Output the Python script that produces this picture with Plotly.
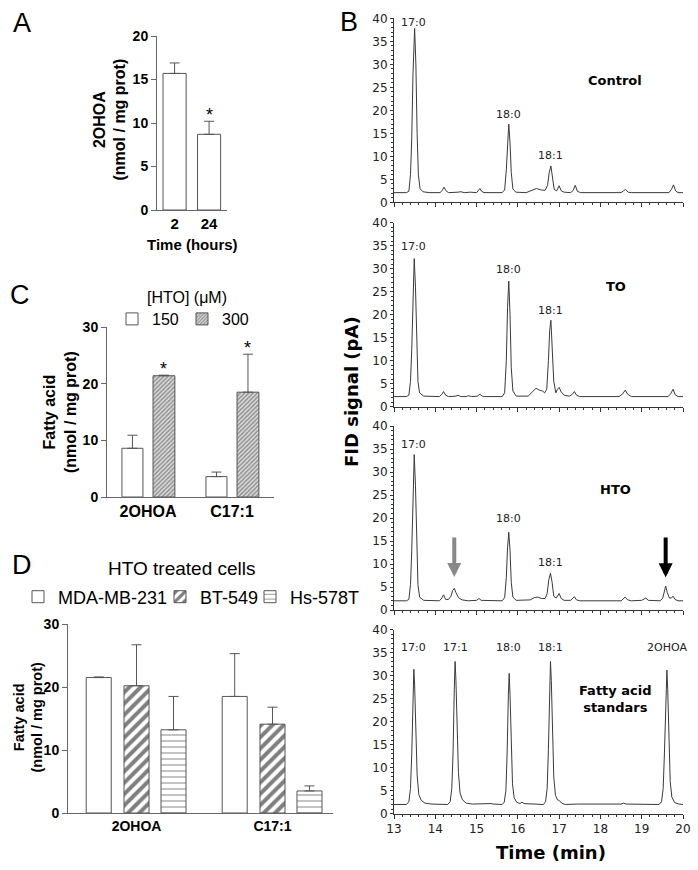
import plotly.graph_objects as go

W, H = 698, 870
def px(x):
    return x / W
def py(y):
    return 1 - y / H

ARIAL = "Liberation Sans, Arial, sans-serif"
VERD = "DejaVu Sans, Verdana, sans-serif"

# ---------------- Panel A data ----------------
a_times = ["2", "24"]
a_mean = [15.7, 8.7]
a_top = [16.9, 10.2]
a_sig = ["", "*"]

# ---------------- Panel C data ----------------
c_cats = ["2OHOA", "C17:1"]
c_150_mean = [8.6, 3.6]
c_150_top = [10.9, 4.4]
c_300_mean = [21.4, 18.5]
c_300_top = [21.5, 25.2]
c_300_sig = ["*", "*"]

# ---------------- Panel D data ----------------
d_cats = ["2OHOA", "C17:1"]
d_mda_mean = [21.5, 18.5]
d_mda_top = [21.6, 25.3]
d_bt_mean = [20.2, 14.1]
d_bt_top = [26.7, 16.8]
d_hs_mean = [13.2, 3.5]
d_hs_top = [18.5, 4.3]

# ---------------- Panel B chromatograms ----------------
ctrl_t = [13.00, 13.30, 13.36, 13.40, 13.43, 13.46, 13.50, 13.53, 13.56, 13.59, 13.63, 13.70, 13.85,
          14.12, 14.17, 14.21, 14.26, 14.32, 14.55, 14.62, 14.70, 14.85, 15.00, 15.04, 15.08, 15.12, 15.18,
          15.62, 15.68, 15.72, 15.75, 15.78, 15.81, 15.84, 15.88, 15.95, 16.20, 16.35, 16.45, 16.55, 16.66,
          16.72, 16.76, 16.80, 16.84, 16.88, 16.94, 17.00, 17.05, 17.12, 17.28, 17.34, 17.39, 17.44, 17.52,
          18.50, 18.56, 18.61, 18.67, 18.75, 19.66, 19.72, 19.77, 19.82, 19.88, 20.00]
ctrl_s = [2.1, 2.1, 2.4, 6.0, 14.0, 28.0, 37.8, 30.0, 15.0, 6.0, 3.0, 2.3, 2.1,
          2.1, 2.6, 3.3, 2.5, 2.1, 2.2, 2.3, 2.1, 2.2, 2.1, 2.6, 3.0, 2.4, 2.1,
          2.1, 2.7, 7.0, 13.5, 17.0, 13.0, 6.5, 2.9, 2.2, 2.1, 2.6, 3.0, 2.7, 2.6,
          3.7, 6.5, 7.9, 5.5, 2.8, 2.5, 3.6, 2.5, 2.2, 2.1, 2.6, 3.7, 2.4, 2.1,
          2.1, 2.5, 2.8, 2.2, 2.1, 2.1, 2.8, 3.8, 2.5, 2.1, 2.1]

to_t = [13.00, 13.30, 13.36, 13.40, 13.43, 13.46, 13.49, 13.52, 13.55, 13.58, 13.62, 13.72,
        14.10, 14.16, 14.20, 14.25, 14.32, 14.50, 14.55, 14.62, 14.75, 14.80, 14.88, 15.02, 15.08, 15.14, 15.20,
        15.62, 15.68, 15.72, 15.75, 15.78, 15.81, 15.84, 15.88, 15.96, 16.25, 16.36, 16.44, 16.52, 16.60, 16.65,
        16.70, 16.74, 16.77, 16.80, 16.83, 16.87, 16.92, 16.96, 17.00, 17.05, 17.12, 17.25, 17.32, 17.37, 17.42,
        17.50, 18.45, 18.54, 18.60, 18.66, 18.75, 19.64, 19.70, 19.76, 19.81, 19.88, 20.00]
to_s = [2.2, 2.2, 2.5, 5.5, 12.5, 25.0, 32.2, 26.0, 13.0, 5.5, 3.0, 2.3,
        2.2, 2.7, 3.3, 2.5, 2.2, 2.3, 2.5, 2.2, 2.2, 2.4, 2.2, 2.3, 2.7, 2.3, 2.2,
        2.2, 3.0, 10.0, 21.5, 27.3, 20.0, 8.5, 3.4, 2.3, 2.3, 3.4, 4.0, 3.6, 3.4, 3.0,
        3.8, 10.0, 16.5, 18.8, 14.0, 5.5, 3.0, 3.8, 4.2, 3.2, 2.5, 2.3, 2.7, 3.3, 2.5,
        2.2, 2.2, 2.8, 3.6, 2.7, 2.2, 2.2, 2.8, 3.8, 2.6, 2.2, 2.2]

hto_t = [13.00, 13.30, 13.36, 13.40, 13.43, 13.46, 13.49, 13.52, 13.55, 13.58, 13.62, 13.72,
         14.10, 14.16, 14.20, 14.25, 14.32, 14.38, 14.42, 14.46, 14.50, 14.56, 14.65, 14.80, 15.00, 15.06, 15.11,
         15.62, 15.68, 15.72, 15.75, 15.78, 15.81, 15.84, 15.88, 15.96, 16.30, 16.40, 16.48, 16.58, 16.66,
         16.71, 16.75, 16.79, 16.83, 16.87, 16.93, 17.00, 17.05, 17.12, 17.28, 17.33, 17.37, 17.42, 17.50,
         18.50, 18.56, 18.60, 18.66, 18.75, 19.00, 19.06, 19.10, 19.16, 19.45, 19.51, 19.55, 19.58, 19.62,
         19.67, 19.72, 19.76, 19.81, 19.88, 20.00]
hto_s = [2.0, 2.0, 2.3, 5.5, 13.0, 26.0, 33.8, 27.0, 13.5, 5.5, 2.8, 2.1,
         2.0, 2.6, 3.3, 2.3, 2.3, 3.0, 4.2, 4.7, 3.8, 2.7, 2.2, 2.0, 2.1, 2.5, 2.1,
         2.0, 2.7, 7.0, 13.5, 16.9, 13.0, 6.0, 2.8, 2.1, 2.2, 2.7, 2.8, 2.5, 2.5,
         3.6, 6.6, 8.0, 6.0, 3.0, 2.6, 3.6, 2.5, 2.1, 2.1, 2.5, 2.9, 2.2, 2.0,
         2.0, 2.4, 2.8, 2.2, 2.0, 2.1, 2.4, 2.6, 2.1, 2.0, 2.6, 4.0, 5.2, 3.8,
         2.6, 2.6, 3.0, 2.3, 2.0, 2.0]

std_t = [13.00, 13.30, 13.36, 13.40, 13.43, 13.46, 13.48, 13.50, 13.53, 13.56, 13.60, 13.66, 13.75, 13.90,
         14.30, 14.36, 14.40, 14.43, 14.46, 14.48, 14.50, 14.53, 14.56, 14.60, 14.66, 14.75, 14.90,
         15.35, 15.40, 15.62, 15.67, 15.71, 15.74, 15.77, 15.79, 15.81, 15.84, 15.87, 15.91, 15.97, 16.05,
         16.10, 16.15, 16.62, 16.67, 16.71, 16.74, 16.77, 16.79, 16.81, 16.84, 16.87, 16.91, 16.96, 17.00,
         17.06, 17.15, 17.45, 18.50, 18.56, 18.62, 19.42, 19.48, 19.52, 19.55, 19.58, 19.61, 19.63, 19.66,
         19.69, 19.73, 19.80, 19.90, 20.00]
std_s = [2.0, 2.0, 2.6, 5.5, 13.0, 25.0, 31.4, 28.0, 17.0, 8.5, 4.2, 2.9, 2.3, 2.1,
         2.0, 2.6, 5.5, 13.0, 27.0, 33.1, 29.0, 18.0, 9.0, 4.5, 3.0, 2.3, 2.1,
         2.2, 2.1, 2.0, 2.5, 5.0, 13.0, 26.0, 30.5, 26.0, 14.0, 6.5, 3.5, 2.5, 2.2,
         2.5, 2.2, 2.0, 2.6, 5.5, 14.0, 28.0, 33.1, 29.0, 17.0, 8.0, 4.0, 3.0, 2.9,
         2.3, 2.0, 2.1, 2.1, 2.3, 2.1, 2.0, 2.6, 5.5, 13.0, 26.0, 31.2, 27.0, 15.0,
         7.0, 3.6, 2.4, 2.1, 2.0]

ctrl_lab = ["17:0", "18:0", "18:1"]
ctrl_lab_t = [13.48, 15.78, 16.78]
ctrl_lab_y = [39.0, 19.1, 10.2]
to_lab = ["17:0", "18:0", "18:1"]
to_lab_t = [13.48, 15.78, 16.78]
to_lab_y = [34.8, 29.9, 20.9]
hto_lab = ["17:0", "18:0", "18:1"]
hto_lab_t = [13.48, 15.78, 16.78]
hto_lab_y = [36.0, 19.9, 10.3]
std_lab = ["17:0", "17:1", "18:0", "18:1", "2OHOA"]
std_lab_t = [13.48, 14.48, 15.78, 16.79, 19.61]
std_lab_y = [36.2, 36.2, 36.2, 36.2, 36.2]

panel_names = ["Control", "TO", "HTO", "Fatty acid<br>standars"]
panel_name_t = [18.36, 18.37, 18.36, 18.36]
panel_name_y = [26.4, 26.2, 26.2, 24.9]

hto_arrow_t = [14.46, 19.58]
hto_arrow_tip = [7.2, 7.1]
hto_arrow_tail = [16.1, 16.1]
hto_arrow_col = ["#888888", "#000000"]

time_ticks = [13, 14, 15, 16, 17, 18, 19, 20]

# ---------------- Figure ----------------
fig = go.Figure()

BAR_LINE = dict(color="#555555", width=1)
ERR = dict(color="#555555", thickness=1, width=5)

def err(mean, top):
    return dict(type="data", symmetric=False, array=[t - m for m, t in zip(mean, top)],
                arrayminus=[0] * len(mean), **ERR)

# Panel A
fig.add_trace(go.Bar(x=a_times, y=a_mean, width=0.67, xaxis="x", yaxis="y",
                     marker=dict(color="white", line=BAR_LINE),
                     error_y=err(a_mean, a_top), showlegend=False))

# Panel C
fig.add_trace(go.Bar(x=c_cats, y=c_150_mean, name="150", offset=-0.31, width=0.25,
                     xaxis="x2", yaxis="y2", legend="legend",
                     marker=dict(color="white", line=BAR_LINE),
                     error_y=err(c_150_mean, c_150_top)))
fig.add_trace(go.Bar(x=c_cats, y=c_300_mean, name="300", offset=0.06, width=0.26,
                     xaxis="x2", yaxis="y2", legend="legend2",
                     marker=dict(color="white", line=BAR_LINE,
                                 pattern=dict(shape="/", size=3, solidity=0.5,
                                              fgcolor="#444444", bgcolor="#dddddd")),
                     error_y=err(c_300_mean, c_300_top)))

# Panel D
fig.add_trace(go.Bar(x=d_cats, y=d_mda_mean, name="MDA-MB-231", offset=-0.37, width=0.184,
                     xaxis="x3", yaxis="y3", legend="legend3",
                     marker=dict(color="white", line=BAR_LINE),
                     error_y=err(d_mda_mean, d_mda_top)))
fig.add_trace(go.Bar(x=d_cats, y=d_bt_mean, name="BT-549", offset=-0.092, width=0.184,
                     xaxis="x3", yaxis="y3", legend="legend4",
                     marker=dict(color="white", line=BAR_LINE,
                                 pattern=dict(shape="/", size=8, solidity=0.5,
                                              fgcolor="#000000", bgcolor="white")),
                     error_y=err(d_bt_mean, d_bt_top)))
fig.add_trace(go.Bar(x=d_cats, y=d_hs_mean, name="Hs-578T", offset=0.18, width=0.184,
                     xaxis="x3", yaxis="y3", legend="legend5",
                     marker=dict(color="white", line=BAR_LINE,
                                 pattern=dict(shape="-", size=6, solidity=0.2,
                                              fgcolor="#333333", bgcolor="white")),
                     error_y=err(d_hs_mean, d_hs_top)))

# Panel B traces
chrom = [(ctrl_t, ctrl_s), (to_t, to_s), (hto_t, hto_s), (std_t, std_s)]
for i, (t, s) in enumerate(chrom):
    n = i + 4
    fig.add_trace(go.Scatter(x=t, y=s, mode="lines", line=dict(color="#3a3a3a", width=1),
                             xaxis=f"x{n}", yaxis=f"y{n}", showlegend=False, hoverinfo="skip"))

# ---------------- Axes ----------------
bar_y_common = dict(showline=True, linecolor="#666666", linewidth=1, ticks="outside", ticklen=5,
                    tickcolor="#666666", showgrid=False, zeroline=False,
                    tickfont=dict(family=ARIAL, size=14, color="black", weight="bold"))
bar_x_common = dict(showline=True, linecolor="#666666", linewidth=1, ticks="", showgrid=False,
                    zeroline=False, type="category")

layout = dict(
    width=W, height=H, margin=dict(l=0, r=0, t=0, b=0, pad=0, autoexpand=False),
    paper_bgcolor="white", plot_bgcolor="white", barmode="overlay",
    xaxis=dict(domain=[px(157), px(227)], anchor="y", range=[-0.51, 1.52],
               tickfont=dict(family=ARIAL, size=15, color="black", weight="bold"), **bar_x_common),
    yaxis=dict(domain=[py(210), py(36)], anchor="x", range=[0, 20], dtick=5, **bar_y_common),
    xaxis2=dict(domain=[px(107), px(274)], anchor="y2", range=[-0.488, 1.5],
                tickfont=dict(family=ARIAL, size=16, color="black", weight="bold"), **bar_x_common),
    yaxis2=dict(domain=[py(497), py(327)], anchor="x2", range=[0, 30], dtick=10, **bar_y_common),
    xaxis3=dict(domain=[px(68), px(333)], anchor="y3", range=[-0.504, 1.445],
                tickfont=dict(family=ARIAL, size=14, color="black", weight="bold"), **bar_x_common),
    yaxis3=dict(domain=[py(813), py(624)], anchor="x3", range=[0, 30], dtick=10, **bar_y_common),
)

chrom_dom = [(202.3, 18.3), (406.7, 222.7), (610, 426), (813.7, 629.7)]
for i, (y0, y1) in enumerate(chrom_dom):
    n = i + 4
    layout[f"xaxis{n}"] = dict(domain=[px(394), px(683)], anchor=f"y{n}", range=[13, 20],
                               tickvals=time_ticks, showline=True, linecolor="#333333", linewidth=1,
                               ticks="outside", ticklen=4, tickcolor="#333333", showgrid=False,
                               zeroline=False, showticklabels=(i == 3),
                               minor=dict(dtick=0.2, ticks="outside", ticklen=2, tickcolor="#333333"),
                               tickfont=dict(family=VERD, size=12, color="#222222"))
    layout[f"yaxis{n}"] = dict(domain=[py(y0), py(y1)], anchor=f"x{n}", range=[0, 40], dtick=5,
                               showline=True, linecolor="#333333", linewidth=1, ticks="outside",
                               ticklen=3, tickcolor="#333333", showgrid=False, zeroline=False,
                               minor=dict(dtick=1, ticks="outside", ticklen=2, tickcolor="#333333"),
                               tickfont=dict(family=VERD, size=12, color="#222222"))

leg_common = dict(xanchor="left", yanchor="middle", bgcolor="rgba(0,0,0,0)", borderwidth=0,
                  orientation="h")
layout["legend"] = dict(x=px(112), y=py(319), font=dict(family=ARIAL, size=16, color="black"), **leg_common)
layout["legend2"] = dict(x=px(182), y=py(319), font=dict(family=ARIAL, size=16, color="black"), **leg_common)
layout["legend3"] = dict(x=px(18), y=py(597), font=dict(family=ARIAL, size=18, color="black"), **leg_common)
layout["legend4"] = dict(x=px(160), y=py(597), font=dict(family=ARIAL, size=18, color="black"), **leg_common)
layout["legend5"] = dict(x=px(250), y=py(597), font=dict(family=ARIAL, size=18, color="black"), **leg_common)

fig.update_layout(**layout)

# ---------------- Annotations ----------------
def paper_text(x, y, text, size, family=ARIAL, weight="normal", angle=0, color="black"):
    fig.add_annotation(x=px(x), y=py(y), xref="paper", yref="paper", text=text, showarrow=False,
                       xanchor="center", yanchor="middle", textangle=angle,
                       font=dict(family=family, size=size, color=color, weight=weight))

# panel letters
paper_text(22, 23, "A", 27)
paper_text(349, 22, "B", 27)
paper_text(20, 295, "C", 27)
paper_text(22, 565, "D", 27)

# axis titles
paper_text(109.5, 120, "2OHOA<br>(nmol / mg prot)", 16, weight="bold", angle=-90)
paper_text(192, 245, "Time (hours)", 15, weight="bold")
paper_text(60, 412, "Fatty acid<br>(nmol / mg prot)", 16, weight="bold", angle=-90)
paper_text(187, 297, "[HTO] (μM)", 16)
paper_text(181.5, 568, "HTO treated cells", 19)
paper_text(27.5, 717, "Fatty acid<br>(nmol / mg prot)", 14.5, weight="bold", angle=-90)
paper_text(352, 392, "FID signal (pA)", 18, family=VERD, weight="bold", angle=-90)
paper_text(551, 852, "Time (min)", 18, family=VERD, weight="bold")

# significance asterisks
for i, (top, s) in enumerate(zip(a_top, a_sig)):
    if s:
        fig.add_annotation(x=i, y=top, xref="x", yref="y", text=s, showarrow=False,
                           yanchor="bottom", yshift=-6, font=dict(family=ARIAL, size=18, color="black"))
for i, (top, s) in enumerate(zip(c_300_top, c_300_sig)):
    if s:
        fig.add_annotation(x=i + 0.06 + 0.13, y=top, xref="x2", yref="y2", text=s, showarrow=False,
                           yanchor="bottom", yshift=-6, font=dict(family=ARIAL, size=18, color="black"))

# chromatogram peak labels
lab_sets = [(ctrl_lab, ctrl_lab_t, ctrl_lab_y), (to_lab, to_lab_t, to_lab_y),
            (hto_lab, hto_lab_t, hto_lab_y), (std_lab, std_lab_t, std_lab_y)]
for i, (labs, ts, ys) in enumerate(lab_sets):
    n = i + 4
    for lab, t, y in zip(labs, ts, ys):
        fig.add_annotation(x=t, y=y, xref=f"x{n}", yref=f"y{n}", text=lab, showarrow=False,
                           font=dict(family=VERD, size=11, color="#222222"))
    fig.add_annotation(x=panel_name_t[i], y=panel_name_y[i], xref=f"x{n}", yref=f"y{n}",
                       text=panel_names[i], showarrow=False,
                       font=dict(family=VERD, size=13, color="black", weight="bold"))

# arrows in HTO chromatogram
for t, tip, tail, col in zip(hto_arrow_t, hto_arrow_tip, hto_arrow_tail, hto_arrow_col):
    fig.add_annotation(x=t, y=tip, ax=t, ay=tail, xref="x6", yref="y6", axref="x6", ayref="y6",
                       text="", showarrow=True, arrowhead=2, arrowsize=0.7, arrowwidth=4,
                       arrowcolor=col, standoff=0)

fig.write_html("out.html", config={"displayModeBar": False, "staticPlot": True},
               post_script="document.body.style.margin='0';document.body.style.overflow='hidden';")
